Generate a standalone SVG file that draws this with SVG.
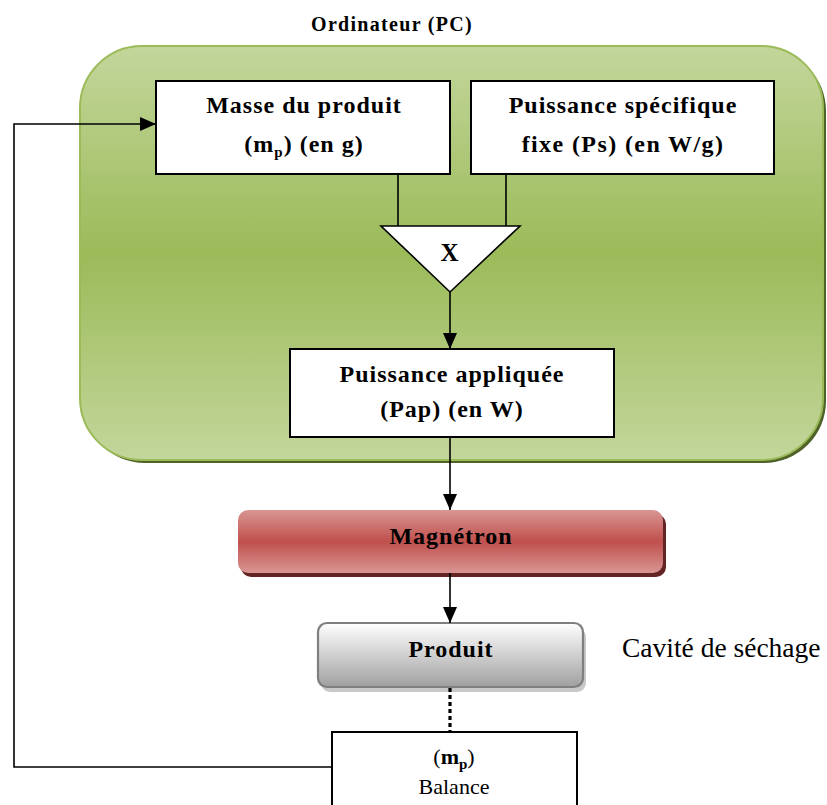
<svg xmlns="http://www.w3.org/2000/svg" width="827" height="805" viewBox="0 0 827 805">
<defs>
<style>
.b{font-family:"Liberation Serif","Times New Roman",serif;font-weight:bold;font-size:24px;letter-spacing:1px;fill:#000;text-anchor:middle}
.r{font-family:"Liberation Serif","Times New Roman",serif;fill:#000}
.box{fill:#fff;stroke:#000;stroke-width:2}
.ln{fill:none;stroke:#000;stroke-width:1.6}
.arr{fill:none;stroke:#000;stroke-width:1.6;marker-end:url(#ah)}
</style>
<linearGradient id="gG" x1="0" y1="0" x2="0" y2="1">
<stop offset="0" stop-color="#c3d69b"/>
<stop offset="0.5" stop-color="#9bbb59"/>
<stop offset="1" stop-color="#c3d69b"/>
</linearGradient>
<linearGradient id="gR" x1="0" y1="0" x2="0" y2="1">
<stop offset="0" stop-color="#d99694"/>
<stop offset="0.5" stop-color="#c0504d"/>
<stop offset="1" stop-color="#d99694"/>
</linearGradient>
<linearGradient id="gP" x1="0" y1="0" x2="0" y2="1">
<stop offset="0" stop-color="#ffffff"/>
<stop offset="1" stop-color="#a0a0a0"/>
</linearGradient>
<marker id="ah" markerUnits="userSpaceOnUse" markerWidth="16" markerHeight="16" viewBox="0 0 16 16" refX="16" refY="8" orient="auto">
<path d="M0,1 L16,8 L0,15 Z" fill="#000"/>
</marker>
</defs>

<g id="ordinateur">
<rect x="83" y="49" width="743" height="414" rx="62" fill="#4f6228"/>
<rect x="80" y="46" width="743" height="414" rx="62" fill="url(#gG)" stroke="#9bbb59" stroke-width="2"/>
<text class="b" x="392" y="31" style="font-size:20px;letter-spacing:1.3px">Ordinateur (PC)</text>
</g>

<g id="masse">
<rect class="box" x="156" y="81" width="294" height="93"/>
<text class="b" x="304" y="113">Masse du produit</text>
<text class="b" x="304" y="152">(m<tspan dy="5" style="font-size:15px">p</tspan><tspan dy="-5">) (en g)</tspan></text>
</g>

<g id="puissance-specifique">
<rect class="box" x="471" y="81" width="303" height="93"/>
<text class="b" x="623" y="113">Puissance spécifique</text>
<text class="b" x="623" y="152" style="letter-spacing:1.4px">fixe (Ps) (en W/g)</text>
</g>

<g id="multiplieur">
<path d="M381,226 L520,226 L450,292 Z" fill="#fff" stroke="#000" stroke-width="1.6"/>
<text class="b" x="450" y="261" style="font-size:25px">X</text>
</g>

<g id="puissance-appliquee">
<rect class="box" x="290" y="349" width="324" height="88"/>
<text class="b" x="452" y="382">Puissance appliquée</text>
<text class="b" x="452" y="417">(Pap) (en W)</text>
</g>

<g id="magnetron">
<rect x="241" y="514" width="425" height="63" rx="10" fill="#632523"/>
<rect x="238" y="510" width="425" height="63" rx="10" fill="url(#gR)"/>
<text class="b" x="451" y="544">Magnétron</text>
</g>

<g id="produit">
<rect x="321" y="628" width="265" height="64" rx="9" fill="#c8c8c8"/>
<rect x="318" y="623" width="265" height="64" rx="9" fill="url(#gP)" stroke="#7f7f7f" stroke-width="2.2"/>
<text class="b" x="451" y="657">Produit</text>
</g>

<g id="cavite">
<text class="r" x="622" y="657" style="font-size:27.5px">Cavité de séchage</text>
</g>

<g id="balance">
<rect class="box" x="332" y="732" width="245" height="90"/>
<text class="r" x="454" y="764" text-anchor="middle" style="font-size:22px">(<tspan font-weight="bold">m</tspan><tspan dy="5" font-weight="bold" style="font-size:15px">p</tspan><tspan dy="-5">)</tspan></text>
<text class="r" x="454" y="794" text-anchor="middle" style="font-size:22px">Balance</text>
</g>

<g id="connecteurs">
<path class="ln" d="M398,174 V226"/>
<path class="ln" d="M506,174 V226"/>
<path class="arr" d="M450,292 V349"/>
<path class="arr" d="M450,437 V510"/>
<path class="arr" d="M450,573 V623"/>
<path d="M450,688 V732" fill="none" stroke="#000" stroke-width="3.2" stroke-dasharray="4,3"/>
<path class="arr" d="M332,767 H14 V124 H156"/>
</g>
</svg>
